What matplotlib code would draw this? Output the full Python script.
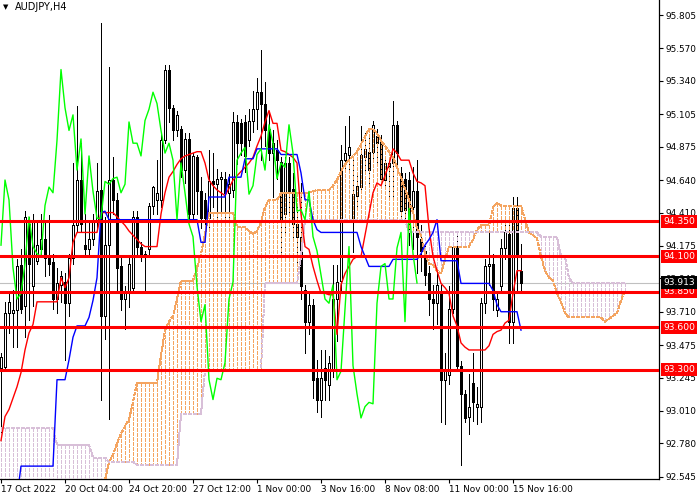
import numpy as np
import matplotlib
matplotlib.use("Agg")
import matplotlib.pyplot as plt

# AUDJPY H4 candles, bar 0 = 17 Oct 2022 12:00
opens = [93.31, 93.32, 93.70, 93.70, 93.72, 94.04, 93.75, 94.33, 93.89, 94.07,
         94.15, 94.22, 94.09, 94.06, 93.80, 93.90, 93.92, 93.77, 94.09, 94.32,
         94.64, 94.18, 94.15, 94.22, 94.36, 94.57, 93.68, 94.18, 94.64, 94.50,
         94.03, 93.80, 93.84, 93.88, 94.38, 94.17, 94.12, 94.15, 94.46, 94.50,
         94.50, 94.92, 95.42, 95.15, 94.99, 95.00, 94.71, 94.93, 94.40, 94.80,
         94.56, 94.50, 94.37, 94.63, 94.61, 94.65, 94.65, 94.55, 94.57, 95.05,
         95.04, 95.05, 94.92, 95.06, 95.14, 95.26, 95.18, 95.00, 94.83, 94.85,
         94.77, 94.40, 94.76, 94.58, 94.33, 94.24, 93.86, 93.64, 93.76, 93.24,
         93.09, 93.31, 93.19, 93.30, 93.80, 93.93, 94.78, 94.82, 94.36, 94.53,
         94.59, 94.80, 94.84, 94.84, 94.95, 94.91, 94.64, 94.76, 94.76, 95.03,
         94.69, 94.65, 94.64, 94.45, 94.56, 94.22, 94.14, 93.98, 93.80, 93.77,
         93.85, 93.23, 93.26, 93.73, 94.17, 93.33, 93.13, 92.97, 93.21, 93.04,
         93.04, 93.77, 94.03, 94.05, 93.72, 93.89, 94.16, 94.26, 93.64, 94.44,
         94.00]
highs = [93.42, 93.78, 93.84, 93.86, 94.08, 94.15, 94.42, 94.38, 94.40, 94.36,
         94.40, 94.36, 94.39, 94.12, 94.02, 94.00, 93.98, 94.12, 94.76, 95.16,
         94.90, 94.40, 94.36, 94.40, 94.76, 95.75, 94.38, 95.44, 94.80, 94.55,
         94.10, 93.89, 94.09, 94.42, 94.42, 94.20, 94.14, 94.48, 94.60, 94.78,
         94.97, 95.45, 95.45, 95.17, 95.13, 95.02, 94.97, 94.97, 94.83, 94.82,
         94.66, 94.55, 94.85, 94.83, 94.72, 94.70, 94.70, 94.68, 95.12, 95.10,
         95.07, 95.10, 95.14, 95.27, 95.36, 95.56, 95.33, 95.11, 94.99, 94.92,
         94.80, 94.80, 94.80, 94.69, 94.48, 94.62, 93.90, 93.84, 93.80, 93.37,
         93.44, 93.44, 93.40, 94.04, 94.04, 94.89, 95.02, 95.09, 94.78, 94.69,
         95.02, 94.97, 94.95, 95.06, 95.00, 94.96, 94.80, 94.80, 95.20, 95.06,
         94.73, 94.69, 94.70, 94.73, 94.78, 94.32, 94.18, 94.03, 93.90, 94.00,
         93.90, 93.42, 93.89, 94.18, 94.25, 93.36, 93.16, 93.27, 93.42, 93.18,
         93.81, 94.08, 94.29, 94.12, 93.84, 94.22, 94.37, 94.36, 94.52, 94.52,
         94.19]
lows = [92.80, 93.30, 93.56, 93.46, 93.46, 93.70, 93.53, 93.65, 93.75, 94.05,
        94.12, 93.96, 93.97, 93.73, 93.70, 93.78, 93.37, 93.68, 94.05, 94.28,
        94.28, 94.10, 94.10, 94.18, 94.30, 93.09, 93.52, 92.95, 94.40, 93.85,
        93.72, 93.59, 93.74, 93.84, 94.12, 94.07, 93.86, 94.12, 94.40, 94.40,
        94.45, 94.90, 95.05, 94.92, 94.95, 94.66, 94.62, 94.36, 94.36, 94.40,
        94.30, 94.23, 94.30, 94.45, 94.32, 94.40, 94.35, 94.36, 94.52, 94.75,
        94.82, 94.70, 94.88, 94.98, 95.00, 94.78, 94.88, 94.78, 94.52, 94.65,
        94.07, 94.26, 94.40, 94.22, 94.05, 93.80, 93.42, 93.55, 93.10, 93.00,
        92.97, 93.09, 93.09, 93.25, 93.50, 93.85, 94.70, 94.72, 94.13, 94.45,
        94.55, 94.70, 94.62, 94.78, 94.75, 94.60, 94.58, 94.50, 94.50, 94.75,
        94.36, 94.37, 94.18, 94.15, 93.98, 94.00, 93.90, 93.69, 93.59, 93.62,
        92.93, 92.92, 93.20, 93.70, 93.30, 92.63, 92.93, 92.85, 92.94, 92.92,
        92.93, 93.70, 93.90, 93.72, 93.68, 93.85, 94.08, 93.49, 93.49, 93.84,
        93.85]
closes = [93.39, 93.70, 93.78, 93.72, 94.03, 93.73, 94.38, 94.05, 94.36, 94.18,
          94.22, 94.09, 94.05, 93.80, 93.91, 93.96, 93.77, 94.09, 94.32, 94.64,
          94.33, 94.15, 94.22, 94.36, 94.56, 93.68, 94.18, 94.64, 94.50, 94.02,
          93.80, 93.84, 94.05, 94.38, 94.17, 94.12, 94.10, 94.46, 94.59, 94.55,
          94.92, 95.42, 95.15, 94.99, 95.10, 94.71, 94.93, 94.40, 94.81, 94.56,
          94.37, 94.37, 94.63, 94.61, 94.65, 94.66, 94.55, 94.61, 95.05, 94.90,
          94.90, 94.81, 95.06, 95.14, 95.26, 95.18, 94.99, 94.83, 94.90, 94.78,
          94.36, 94.76, 94.55, 94.33, 94.24, 93.89, 93.64, 93.76, 93.23, 93.09,
          93.24, 93.23, 93.35, 93.80, 93.92, 94.78, 94.83, 94.87, 94.54, 94.60,
          94.82, 94.86, 94.71, 95.03, 94.90, 94.65, 94.76, 94.73, 95.03, 94.83,
          94.42, 94.43, 94.36, 94.56, 94.24, 94.14, 93.97, 93.80, 93.77, 93.90,
          93.23, 93.29, 93.73, 94.17, 93.33, 93.13, 92.96, 93.04, 93.07, 93.06,
          93.77, 94.03, 94.05, 93.80, 93.80, 94.16, 94.27, 93.64, 94.44, 94.12,
          93.913]

# Ichimoku lines
tenkan = [92.80, 92.97, 93.02, 93.10, 93.18, 93.28, 93.44, 93.56, 93.62, 93.78,
          93.78, 93.78, 93.78, 93.78, 93.78, 93.95, 93.88, 93.95, 94.20, 94.27,
          94.27, 94.27, 94.27, 94.27, 94.27, 94.41, 94.41, 94.41, 94.41, 94.38,
          94.35, 94.32, 94.28, 94.25, 94.22, 94.19, 94.17, 94.17, 94.17, 94.17,
          94.40, 94.55, 94.66, 94.70, 94.75, 94.79, 94.81, 94.82, 94.83, 94.84,
          94.84, 94.76, 94.64, 94.60, 94.57, 94.55, 94.53, 94.58, 94.64, 94.67,
          94.70, 94.73, 94.76, 94.80, 94.88, 94.95, 95.05, 95.13, 95.04, 95.04,
          94.85, 94.84, 94.82, 94.80, 94.76, 94.40, 94.17, 94.15, 94.03, 93.93,
          93.84, 93.84, 93.83, 93.83, 93.55, 93.90, 93.98, 94.03, 94.08, 94.10,
          94.10, 94.25, 94.40, 94.55, 94.62, 94.60, 94.67, 94.75, 94.86, 94.83,
          94.78, 94.78, 94.78, 94.69, 94.63, 94.62, 94.60, 94.30, 94.10, 94.00,
          93.91, 93.88, 93.84, 93.68, 93.61, 93.49, 93.46, 93.44, 93.44, 93.44,
          93.44, 93.44, 93.47, 93.55, 93.57, 93.58, 93.63, 93.65, 93.84, 94.00,
          94.00]
kijun = [92.40, 92.40, 92.40, 92.40, 92.40, 92.62, 92.62, 92.62, 92.62, 92.62,
         92.62, 92.62, 92.62, 92.62, 93.23, 93.23, 93.23, 93.37, 93.53, 93.61,
         93.61, 93.61, 93.67, 93.79, 93.95, 94.41, 94.42, 94.36, 94.36, 94.36,
         94.36, 94.36, 94.36, 94.36, 94.36, 94.36, 94.36, 94.36, 94.36, 94.36,
         94.36, 94.36, 94.36, 94.36, 94.36, 94.36, 94.36, 94.36, 94.36, 94.36,
         94.20, 94.20, 94.52, 94.52, 94.52, 94.52, 94.52, 94.66, 94.66, 94.66,
         94.66, 94.79, 94.79, 94.79, 94.86, 94.86, 94.86, 94.86, 94.86, 94.86,
         94.82, 94.82, 94.82, 94.82, 94.82, 94.69, 94.50, 94.50, 94.36, 94.29,
         94.27, 94.27, 94.27, 94.27, 94.27, 94.27, 94.27, 94.27, 94.27, 94.27,
         94.17, 94.10, 94.03, 94.03, 94.03, 94.03, 94.03, 94.03, 94.08, 94.08,
         94.08, 94.08, 94.08, 94.08, 94.08, 94.12, 94.18, 94.22, 94.27, 94.36,
         94.07, 94.07, 94.07, 94.07, 94.07, 93.91, 93.91, 93.91, 93.91, 93.91,
         93.91, 93.91, 93.91, 93.86, 93.76, 93.71, 93.71, 93.71, 93.71, 93.71,
         93.58]
senkou_a = [92.40] * 25 + [
    92.45, 92.52, 92.65, 92.70, 92.78,
    92.85, 92.90, 92.95, 93.07, 93.21, 93.21, 93.21, 93.21, 93.21, 93.21,
    93.40, 93.58, 93.64, 93.68, 93.80, 93.93, 93.93, 93.93, 93.93, 94.02,
    94.12, 94.26, 94.41, 94.41, 94.41, 94.41, 94.41, 94.41, 94.41, 94.31,
    94.31, 94.31, 94.28, 94.26, 94.28, 94.34, 94.45, 94.50, 94.50, 94.50,
    94.55, 94.55, 94.55, 94.55, 94.55, 94.55, 94.55, 94.55, 94.56, 94.57,
    94.57, 94.57, 94.57, 94.60, 94.64, 94.70, 94.75, 94.78, 94.81, 94.84,
    94.89, 94.95, 95.00, 95.00, 94.97, 94.92, 94.88, 94.84, 94.80, 94.73,
    94.66, 94.58, 94.50, 94.41, 94.30, 94.25, 94.12, 94.05, 94.04, 94.00,
    93.98, 94.08, 94.17, 94.17, 94.17, 94.17, 94.17, 94.17, 94.22, 94.29,
    94.32, 94.32, 94.32, 94.45, 94.48, 94.46, 94.46, 94.46, 94.46, 94.46,
    94.46, 94.36, 94.27, 94.25, 94.23, 94.10, 94.00, 93.95, 93.93, 93.84,
    93.78, 93.70, 93.67, 93.67, 93.67, 93.67, 93.67, 93.67, 93.67, 93.67,
    93.67, 93.64, 93.66, 93.68, 93.70, 93.79, 93.86]
# senkou span B is flat over runs of bars
senkou_b_levels = [92.89, 92.77, 92.68, 92.65, 92.63, 92.99, 93.30, 93.91,
                   94.10, 94.36, 94.27, 94.24, 94.10, 93.95, 93.91]
senkou_b_runs = [14, 9, 4, 7, 11, 6, 15, 9, 1, 26, 33, 5, 2, 1, 14]
shift = 26

levels = [94.35, 94.10, 93.85, 93.60, 93.30]
last_price = 93.913
price_ticks = [95.805, 95.570, 95.340, 95.105, 94.875, 94.640, 94.410, 94.175,
               93.945, 93.710, 93.475, 93.245, 93.010, 92.780, 92.545]
time_bars = [0, 16, 32, 48, 64, 80, 96, 112, 128]
time_labels = ["17 Oct 2022", "20 Oct 04:00", "24 Oct 20:00", "27 Oct 12:00",
               "1 Nov 00:00", "3 Nov 16:00", "8 Nov 08:00", "11 Nov 00:00",
               "15 Nov 16:00"]

plt.rcParams['font.family'] = ['DejaVu Sans']
plt.rcParams['lines.scale_dashes'] = False

o = np.array(opens)
h = np.array(highs)
l = np.array(lows)
c = np.array(closes)
n = len(c)
idx = np.arange(n)

sa = np.array(senkou_a)
sb = np.repeat(senkou_b_levels, senkou_b_runs)

ybot, ytop = 92.529, 95.911
fig = plt.figure(figsize=(7, 5), dpi=100)
ax = fig.add_axes([0, 21 / 500, 659 / 700, 479 / 500])
ax.set_xlim(-0.25, 164.5)
ax.set_ylim(ybot, ytop)

PX = 0.72  # one pixel in points at 100 dpi

# candles
ax.vlines(idx, l, h, color='black', lw=PX, zorder=2, antialiased=False)
up = c >= o
body_lo = np.minimum(o, c)
body_h = np.maximum(np.abs(c - o), 0.006)
ax.bar(idx, body_h, bottom=body_lo, width=0.5,
       color=np.where(up, 'white', 'black'), edgecolor='black', lw=PX,
       zorder=3, antialiased=False)

# cloud: one dotted column per bar
orange = '#F4A460'
thistle = '#D8BFD8'
dash = (4 * PX, 2 * PX)
for k in range(len(sa)):
    lo, hi = min(sa[k], sb[k]), max(sa[k], sb[k])
    col = orange if sa[k] >= sb[k] else thistle
    ax.plot([k, k], [hi, lo], color=col, lw=PX, ls=(0, dash),
            antialiased=False, zorder=4)
ax.plot(sa, color=orange, lw=PX, ls=(0, dash), antialiased=False, zorder=4)
ax.plot(sb, color=thistle, lw=PX, ls=(0, dash), antialiased=False, zorder=4)

# tenkan, kijun, chikou
ax.plot(idx, tenkan, color='#FF0000', lw=1.0, zorder=5)
ax.plot(idx, kijun, color='#0000FF', lw=1.0, zorder=5)
ax.plot(idx[:n - shift], c[shift:], color='#00FF00', lw=1.0, zorder=5)

# current price and levels
ax.axhline(last_price, color='#C0C0C0', lw=0.8, zorder=1)
for lv in levels:
    ax.axhline(lv, color='#FF0000', lw=2.2, zorder=6)

ax.yaxis.tick_right()
ax.set_yticks(price_ticks)
ax.set_yticklabels(["%.3f" % t for t in price_ticks])
ax.set_xticks(time_bars)
ax.set_xticklabels(time_labels, ha='left')
ax.tick_params(axis='y', direction='out', length=3, width=0.8, pad=2,
               labelsize=6.4, colors='black')
ax.tick_params(axis='x', direction='out', length=3, width=0.8, pad=1.5,
               labelsize=6.4, colors='black')
for s in ['top', 'left']:
    ax.spines[s].set_visible(False)
for s in ['right', 'bottom']:
    ax.spines[s].set_linewidth(0.9)
    ax.spines[s].set_color('black')

ytr = ax.get_yaxis_transform()
for lv in levels:
    ax.text(1.0 + 4 / 659, lv, "%.3f" % lv, transform=ytr, ha='left', va='center',
            fontsize=6.6, color='white', zorder=10, clip_on=False,
            bbox=dict(boxstyle='square,pad=0.22', fc='#FF0000', ec='none'))
ax.text(1.0 + 4 / 659, last_price, "%.3f" % last_price, transform=ytr, ha='left',
        va='center', fontsize=6.6, color='white', zorder=10, clip_on=False,
        bbox=dict(boxstyle='square,pad=0.22', fc='black', ec='none'))

fig.text(0.004, 0.986, "\u25bc", fontsize=5, va='center', ha='left')
fig.text(0.022, 0.986, "AUDJPY,H4", fontsize=7, va='center', ha='left')

fig.savefig("out.png", dpi=100)
